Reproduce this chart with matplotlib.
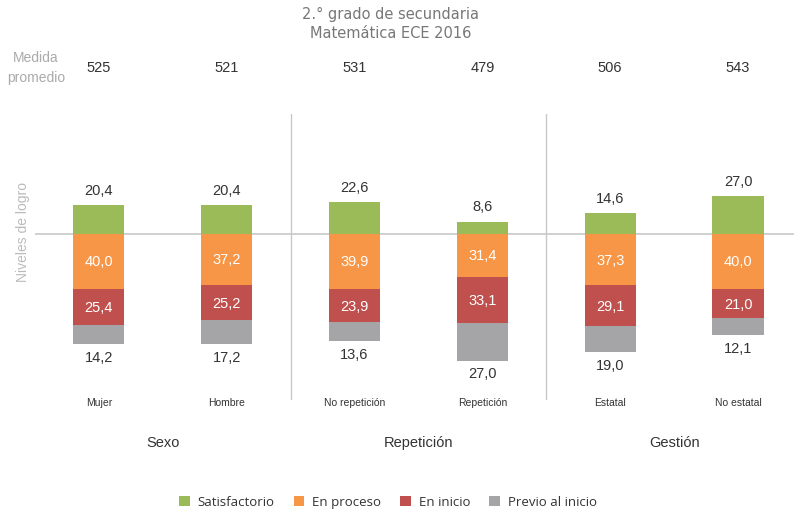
import matplotlib
matplotlib.use("Agg")
import matplotlib.pyplot as plt
import matplotlib.transforms as mtransforms
import numpy as np

categorias = ["Mujer", "Hombre", "No repetición", "Repetición", "Estatal", "No estatal"]
grupos = ["Sexo", "Repetición", "Gestión"]
medida = [525, 521, 531, 479, 506, 543]
satisfactorio = [20.4, 20.4, 22.6, 8.6, 14.6, 27.0]
en_proceso = [40.0, 37.2, 39.9, 31.4, 37.3, 40.0]
en_inicio = [25.4, 25.2, 23.9, 33.1, 29.1, 21.0]
previo = [14.2, 17.2, 13.6, 27.0, 19.0, 12.1]

c_sat = "#9bbb59"
c_proc = "#f79646"
c_ini = "#c0504d"
c_prev = "#a5a5a7"

plt.rcParams["font.family"] = ["Liberation Sans", "DejaVu Sans"]

W, H = 794, 510
fig = plt.figure(figsize=(W / 100, H / 100), dpi=100)
ax = fig.add_axes([35 / W, (H - 401) / H, 759 / W, 286 / H])
ax.set_xlim(-0.5, 5.438)
ax.set_ylim(-119.7, 86.0)
ax.axis("off")

x = np.arange(len(categorias))
w = 0.40
proc = np.array(en_proceso)
ini = np.array(en_inicio)
prev = np.array(previo)
sat = np.array(satisfactorio)

# linea base y separadores de grupo
ax.axhline(0, color="#c8c8c8", lw=1.2, zorder=1)
for s in [1.5, 3.5]:
    ax.axvline(s, color="#c8c8c8", lw=1.0, zorder=1)

b_sat = ax.bar(x, sat, w, color=c_sat, label="Satisfactorio", zorder=2)
b_proc = ax.bar(x, -proc, w, color=c_proc, label="En proceso", zorder=2)
b_ini = ax.bar(x, -ini, w, bottom=-proc, color=c_ini, label="En inicio", zorder=2)
b_prev = ax.bar(x, -prev, w, bottom=-proc - ini, color=c_prev, label="Previo al inicio", zorder=2)

def fmt(v):
    return f"{v:.1f}".replace(".", ",")

for i in range(len(x)):
    ax.annotate(fmt(sat[i]), (x[i], sat[i]), xytext=(0, 6), textcoords="offset points",
                ha="center", va="bottom", fontsize=10.5, color="#333333")
    ax.text(x[i], -proc[i] / 2, fmt(proc[i]), ha="center", va="center",
            fontsize=10.5, color="white")
    ax.text(x[i], -proc[i] - ini[i] / 2, fmt(ini[i]), ha="center", va="center",
            fontsize=10.5, color="white")
    ax.annotate(fmt(prev[i]), (x[i], -proc[i] - ini[i] - prev[i]), xytext=(0, -4),
                textcoords="offset points", ha="center", va="top", fontsize=10.5, color="#333333")

trans = mtransforms.blended_transform_factory(ax.transData, fig.transFigure)
for i in range(len(x)):
    ax.text(x[i], 1 - 68 / H, str(medida[i]), transform=trans, ha="center", va="center",
            fontsize=10.5, color="#333333")
    ax.text(x[i], 1 - 403 / H, categorias[i], transform=trans, ha="center", va="center",
            fontsize=7.5, color="#333333")
for j, g in enumerate(grupos):
    ax.text(2 * j + 0.5, 1 - 443 / H, g, transform=trans, ha="center", va="center",
            fontsize=10.5, color="#333333")

fig.text(36 / W, 1 - 68 / H, "Medida\npromedio", ha="center", va="center",
         fontsize=10, color="#aaaaaa", linespacing=1.6)
fig.text(23 / W, 1 - 232 / H, "Niveles de logro", ha="center", va="center",
         rotation=90, fontsize=10, color="#bbbbbb")
fig.text(391 / W, 1 - 24 / H, "2.° grado de secundaria\nMatemática ECE 2016",
         ha="center", va="center", fontsize=10.5, color="#777777",
         family="DejaVu Sans", linespacing=1.3)

fig.legend(handles=[b_sat, b_proc, b_ini, b_prev], loc="center", ncol=4,
           bbox_to_anchor=(388 / W, 1 - 503 / H), frameon=False,
           prop={"family": "Open Sans", "size": 9.5}, handlelength=0.8,
           handleheight=0.8, columnspacing=1.45, handletextpad=0.6,
           labelcolor="#333333")

fig.savefig("out.png", dpi=100)
